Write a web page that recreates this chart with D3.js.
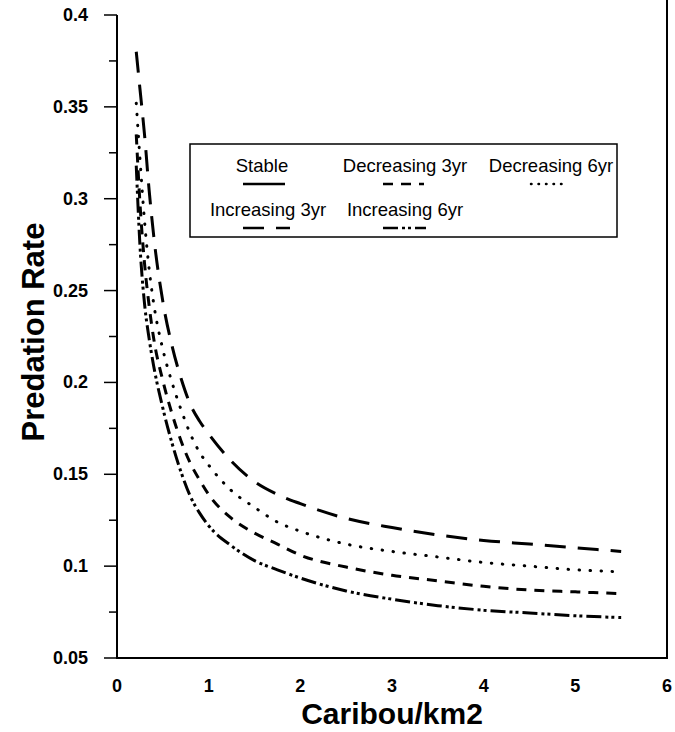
<!DOCTYPE html>
<html>
<head>
<meta charset="utf-8">
<script src="https://cdn.jsdelivr.net/npm/d3@7"></script>
<style>
  body { margin: 0; background: #fff; }
  svg { display: block; font-family: 'Liberation Sans', Arial, sans-serif; }
</style>
</head>
<body>
<script>
// sample points along caribou density (caribou/km2)
const xs = [0.21, 0.25, 0.3, 0.35, 0.4, 0.5, 0.6, 0.7, 0.8, 0.9, 1, 1.25, 1.5, 1.75, 2, 2.5, 3, 3.5, 4, 4.5, 5, 5.5];

const increasing3 = [0.38, 0.36, 0.335, 0.305, 0.28, 0.244, 0.22, 0.202, 0.188, 0.179, 0.172, 0.157, 0.146, 0.139, 0.134, 0.126, 0.121, 0.117, 0.114, 0.112, 0.110, 0.108];
const decreasing6 = [0.352, 0.322, 0.288, 0.262, 0.243, 0.218, 0.2, 0.185, 0.172, 0.162, 0.155, 0.141, 0.132, 0.124, 0.119, 0.112, 0.108, 0.105, 0.102, 0.1, 0.098, 0.097];
const decreasing3 = [0.335, 0.298, 0.265, 0.242, 0.224, 0.201, 0.183, 0.168, 0.156, 0.147, 0.139, 0.126, 0.118, 0.112, 0.106, 0.0995, 0.095, 0.092, 0.089, 0.087, 0.086, 0.085];
const increasing6 = [0.318, 0.275, 0.243, 0.224, 0.209, 0.186, 0.167, 0.151, 0.138, 0.129, 0.122, 0.111, 0.103, 0.098, 0.0935, 0.0865, 0.082, 0.0785, 0.076, 0.0745, 0.073, 0.072];

const seriesNames = ['Stable', 'Decreasing 3yr', 'Decreasing 6yr', 'Increasing 3yr', 'Increasing 6yr'];

const xTicks = [0, 1, 2, 3, 4, 5, 6];
const yTicks = [0.05, 0.1, 0.15, 0.2, 0.25, 0.3, 0.35, 0.4];
const yMinorTicks = [0.075, 0.125, 0.175, 0.225, 0.275, 0.325, 0.375];

const width = 675;
const height = 732;
const margin = { top: 15, right: 8, bottom: 74, left: 117 };

const dashes = {
  'Stable': null,
  'Decreasing 3yr': '10,8',
  'Decreasing 6yr': '0.5,10.5',
  'Increasing 3yr': '21,12',
  'Increasing 6yr': '15,4,3,3,3,4'
};

const svg = d3.select('body').append('svg')
  .attr('width', width)
  .attr('height', height);

const x = d3.scaleLinear()
  .domain([0, 6])
  .range([margin.left, width - margin.right]);

const y = d3.scaleLinear()
  .domain([0.05, 0.4])
  .range([height - margin.bottom, margin.top]);

// frame
svg.append('line')
  .attr('x1', x(0)).attr('x2', x(0))
  .attr('y1', y(0.4)).attr('y2', y(0.05))
  .attr('stroke', '#000').attr('stroke-width', 2);
svg.append('line')
  .attr('x1', x(0) - 1).attr('x2', x(6) + 1)
  .attr('y1', y(0.05)).attr('y2', y(0.05))
  .attr('stroke', '#000').attr('stroke-width', 2);
svg.append('line')
  .attr('x1', x(6)).attr('x2', x(6))
  .attr('y1', 0).attr('y2', y(0.05))
  .attr('stroke', '#000').attr('stroke-width', 2);

// y ticks
svg.append('g')
  .selectAll('line')
  .data(yTicks)
  .join('line')
  .attr('x1', x(0) - 13).attr('x2', x(0))
  .attr('y1', d => y(d)).attr('y2', d => y(d))
  .attr('stroke', '#000').attr('stroke-width', 1.5);

svg.append('g')
  .selectAll('line')
  .data(yMinorTicks)
  .join('line')
  .attr('x1', x(0) - 8).attr('x2', x(0))
  .attr('y1', d => y(d)).attr('y2', d => y(d))
  .attr('stroke', '#000').attr('stroke-width', 1.5);

svg.append('g')
  .attr('font-size', 18)
  .attr('font-weight', 'bold')
  .attr('text-anchor', 'end')
  .selectAll('text')
  .data(yTicks)
  .join('text')
  .attr('x', 88)
  .attr('y', d => y(d) + 6)
  .text(d => d);

svg.append('g')
  .attr('font-size', 18)
  .attr('font-weight', 'bold')
  .attr('text-anchor', 'middle')
  .selectAll('text')
  .data(xTicks)
  .join('text')
  .attr('x', d => x(d))
  .attr('y', 692)
  .text(d => d);

// axis titles
svg.append('text')
  .attr('transform', `translate(44,332) rotate(-90)`)
  .attr('text-anchor', 'middle')
  .attr('font-size', 31)
  .attr('font-weight', 'bold')
  .text('Predation Rate');

svg.append('text')
  .attr('x', (x(0) + x(6)) / 2)
  .attr('y', 724)
  .attr('text-anchor', 'middle')
  .attr('font-size', 30)
  .attr('font-weight', 'bold')
  .text('Caribou/km2');

// curves
const line = d3.line()
  .x((d, i) => x(xs[i]))
  .y(d => y(d))
  .curve(d3.curveMonotoneX);

const curves = [
  { name: 'Increasing 3yr', values: increasing3 },
  { name: 'Decreasing 6yr', values: decreasing6 },
  { name: 'Decreasing 3yr', values: decreasing3 },
  { name: 'Increasing 6yr', values: increasing6 }
];

svg.append('g')
  .selectAll('path')
  .data(curves)
  .join('path')
  .attr('d', d => line(d.values))
  .attr('fill', 'none')
  .attr('stroke', '#000')
  .attr('stroke-width', 3)
  .attr('stroke-linecap', d => d.name === 'Decreasing 6yr' ? 'round' : 'butt')
  .attr('stroke-dasharray', d => dashes[d.name]);

// legend
const legend = svg.append('g');

legend.append('rect')
  .attr('x', 190).attr('y', 144)
  .attr('width', 427).attr('height', 93)
  .attr('fill', '#fff')
  .attr('stroke', '#000')
  .attr('stroke-width', 1.5);

const legendPos = [
  { tx: 262, ty: 172, x1: 243, x2: 285, ly: 184 },
  { tx: 405, ty: 172, x1: 383, x2: 424, ly: 184 },
  { tx: 551, ty: 172, x1: 531, x2: 566, ly: 184 },
  { tx: 268, ty: 216, x1: 243, x2: 290, ly: 228 },
  { tx: 405, ty: 216, x1: 383, x2: 426, ly: 228 }
];

const legendItems = legend.selectAll('g')
  .data(seriesNames)
  .join('g');

legendItems.append('text')
  .attr('x', (d, i) => legendPos[i].tx)
  .attr('y', (d, i) => legendPos[i].ty)
  .attr('text-anchor', 'middle')
  .attr('font-size', 18.5)
  .text(d => d);

legendItems.append('line')
  .attr('x1', (d, i) => legendPos[i].x1)
  .attr('x2', (d, i) => legendPos[i].x2)
  .attr('y1', (d, i) => legendPos[i].ly)
  .attr('y2', (d, i) => legendPos[i].ly)
  .attr('stroke', '#000')
  .attr('stroke-width', 2.5)
  .attr('stroke-linecap', d => d === 'Decreasing 6yr' ? 'round' : 'butt')
  .attr('stroke-dasharray', d => d === 'Decreasing 6yr' ? '0.5,7' : dashes[d]);
</script>
</body>
</html>
